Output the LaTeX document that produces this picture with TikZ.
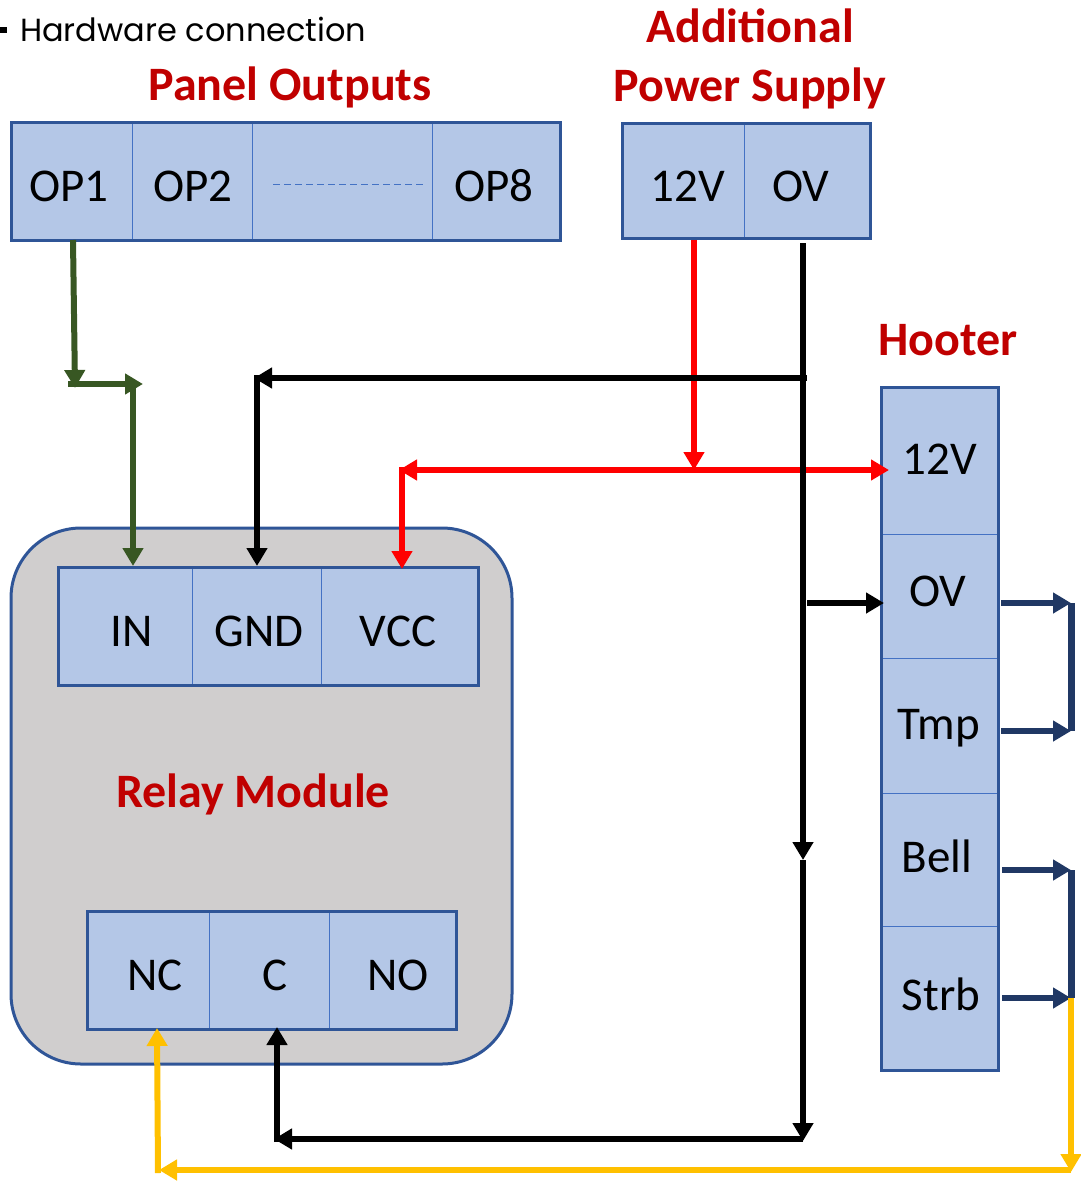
\documentclass[tikz,border=0pt]{standalone}
\usepackage{fontspec}
\setmainfont{Carlito}
\newfontfamily\headfont{Poppins}
\usetikzlibrary{arrows.meta}
\definecolor{cellblue}{HTML}{B4C7E7}
\definecolor{edgeblue}{HTML}{2F5597}
\definecolor{thinblue}{HTML}{4472C4}
\definecolor{modulegrey}{HTML}{D0CECE}
\definecolor{titlered}{HTML}{C00000}
\definecolor{wiregreen}{HTML}{385723}
\definecolor{wirenavy}{HTML}{203864}
\definecolor{wireyellow}{HTML}{FFC000}
\tikzset{
  cellbox/.style={draw=thinblue,line width=1pt,fill=cellblue,inner sep=0pt},
  outerbox/.style={draw=edgeblue,line width=3pt,inner sep=0pt},
  celltext/.style={inner sep=0pt,font=\fontsize{47}{50}\selectfont},
  titletext/.style={inner sep=0pt,text=titlered,font=\fontsize{48}{50}\selectfont\bfseries},
  wire/.style={line width=6pt,-{Triangle[length=18pt,width=20pt]}},
  plainwire/.style={line width=7pt},
}
\begin{document}
\begin{tikzpicture}[x=1pt,y=-1pt]
        \useasboundingbox (0,0) rectangle (1081,1181);
        \fill (0,27) rectangle (7,33);
        \node[anchor=west,inner sep=0pt,font=\fontsize{32}{36}\selectfont\headfont] (heading) at (20,29) {Hardware connection};
        \node[titletext] (paneltitle) at (290,87) {Panel Outputs};
        \node[titletext] (supplytitle) at (750,26) {Additional};
        \node[titletext] (supplytitlea) at (750,88) {Power Supply};
        \node[titletext] (hootertitle) at (948,340) {Hooter};
        % panel outputs
        \node[cellbox,minimum width=121pt,minimum height=118pt] (opone) at (71.5,181) {};
        \node[cellbox,minimum width=120pt,minimum height=118pt] (optwo) at (192,181) {};
        \node[cellbox,minimum width=180pt,minimum height=118pt] (opdots) at (342,181) {};
        \node[cellbox,minimum width=128pt,minimum height=118pt] (opeight) at (496,181) {};
        \node[outerbox,minimum width=549pt,minimum height=118pt] (panel) at (285.5,181) {};
        \node[celltext] (oponetext) at (69,186) {OP1};
        \node[celltext] (optwotext) at (193,186) {OP2};
        \node[celltext] (opeighttext) at (494,186) {OP8};
        \coordinate (dotsleft) at (273,184);
        \coordinate (dotsright) at (425,184);
        \draw[thinblue,dash pattern=on 7pt off 4pt,line width=1pt] (dotsleft)--(dotsright);
        % additional supply
        \node[cellbox,minimum width=122pt,minimum height=115pt] (supplyplus) at (683,180.5) {};
        \node[cellbox,minimum width=126pt,minimum height=115pt] (supplyzero) at (807,180.5) {};
        \node[outerbox,minimum width=248pt,minimum height=115pt] (supply) at (746,180.5) {};
        \node[celltext] (supplyplustext) at (688,186) {12V};
        \node[celltext] (supplyzerotext) at (801,186) {OV};
        % hooter
        \node[cellbox,minimum width=117pt,minimum height=147pt] (hooterplus) at (939.5,460.5) {};
        \node[cellbox,minimum width=117pt,minimum height=124pt] (hooterzero) at (939.5,596) {};
        \node[cellbox,minimum width=117pt,minimum height=135pt] (hootertmp) at (939.5,725.5) {};
        \node[cellbox,minimum width=117pt,minimum height=133pt] (hooterbell) at (939.5,859.5) {};
        \node[cellbox,minimum width=117pt,minimum height=144pt] (hooterstrb) at (939.5,998) {};
        \node[outerbox,minimum width=117pt,minimum height=683pt] (hooter) at (939.5,728.5) {};
        \node[celltext] (hooterplustext) at (940,459) {12V};
        \node[celltext] (hooterzerotext) at (938,591) {OV};
        \node[celltext] (hootertmptext) at (939,728) {Tmp};
        \node[celltext] (hooterbelltext) at (937,856) {Bell};
        \node[celltext] (hooterstrbtext) at (941,994) {Strb};
        % relay module
        \node[draw=edgeblue,line width=3pt,fill=modulegrey,rounded corners=70pt,inner sep=0pt,minimum width=501pt,minimum height=536pt] (relay) at (261.5,796) {};
        \node[titletext] (relaytitle) at (253,794) {Relay Module};
        \node[cellbox,minimum width=134pt,minimum height=118pt] (incell) at (125,626) {};
        \node[cellbox,minimum width=129pt,minimum height=118pt] (gndcell) at (256.5,626) {};
        \node[cellbox,minimum width=157pt,minimum height=118pt] (vcccell) at (399.5,626) {};
        \node[outerbox,minimum width=420pt,minimum height=118pt] (relayin) at (268,626) {};
        \node[celltext] (intext) at (132,631) {IN};
        \node[celltext] (gndtext) at (259,631) {GND};
        \node[celltext] (vcctext) at (398,631) {VCC};
        \node[cellbox,minimum width=122pt,minimum height=118pt] (nccell) at (148,970) {};
        \node[cellbox,minimum width=120pt,minimum height=118pt] (ccell) at (269,970) {};
        \node[cellbox,minimum width=127pt,minimum height=118pt] (nocell) at (392.5,970) {};
        \node[outerbox,minimum width=369pt,minimum height=118pt] (relayout) at (271.5,970) {};
        \node[celltext] (nctext) at (155,975) {NC};
        \node[celltext] (ctext) at (275,975) {C};
        \node[celltext] (notext) at (398,975) {NO};
        % wire points
        \coordinate (greenstart) at (73,240);
        \coordinate (greendrop) at (75,388);
        \coordinate (greenleft) at (68,384);
        \coordinate (greenright) at (143,384);
        \coordinate (greenturn) at (133,384);
        \coordinate (intop) at (133,566);
        \coordinate (blackstart) at (803,243);
        \coordinate (blackmid) at (803,860);
        \coordinate (blackend) at (803,1141);
        \coordinate (blackupper) at (807,378);
        \coordinate (blackupperend) at (254,378);
        \coordinate (blackturn) at (257,375);
        \coordinate (gndtop) at (257,566);
        \coordinate (blackhooter) at (807,603);
        \coordinate (hooterzeroleft) at (884,603);
        \coordinate (blacklowerstart) at (803,1139);
        \coordinate (blacklowerend) at (274,1139);
        \coordinate (blacklowerturn) at (277,1142);
        \coordinate (cbottom) at (277,1027);
        \coordinate (redstart) at (694,240);
        \coordinate (redjoin) at (694,470);
        \coordinate (redleft) at (399,470);
        \coordinate (redright) at (889,470);
        \coordinate (redturn) at (402,467);
        \coordinate (vcctop) at (402,569);
        \coordinate (navyzero) at (1001,603);
        \coordinate (navyzeroend) at (1071,603);
        \coordinate (navytmp) at (1001,731);
        \coordinate (navytmpend) at (1071,731);
        \coordinate (navybell) at (1002,870);
        \coordinate (navybellend) at (1071,870);
        \coordinate (navystrb) at (1002,998);
        \coordinate (navystrbend) at (1071,998);
        \coordinate (yellowtop) at (1071,998);
        \coordinate (yellowcorner) at (1071,1172);
        \coordinate (yellowstart) at (1071,1170);
        \coordinate (yellowend) at (159,1170);
        \coordinate (yellowturn) at (158,1173);
        \coordinate (ncbottom) at (157,1028);
        % wires
        \draw[wire,wiregreen] (greenstart)--(greendrop);
        \draw[wire,wiregreen] (greenleft)--(greenright);
        \draw[wire,wiregreen] (greenturn)--(intop);
        \draw[wire,red] (redstart)--(redjoin);
        \draw[wire,red,{Triangle[length=18pt,width=20pt]}-{Triangle[length=18pt,width=20pt]}] (redleft)--(redright);
        \draw[wire,red] (redturn)--(vcctop);
        \draw[wire] (blackupper)--(blackupperend);
        \draw[wire] (blackturn)--(gndtop);
        \draw[wire] (blackstart)--(blackmid);
        \draw[wire] (blackmid)--(blackend);
        \draw[wire] (blackhooter)--(hooterzeroleft);
        \draw[wire] (blacklowerstart)--(blacklowerend);
        \draw[wire] (blacklowerturn)--(cbottom);
        \draw[wire,wirenavy] (navyzero)--(navyzeroend);
        \draw[wire,wirenavy] (navytmp)--(navytmpend);
        \draw[plainwire,wirenavy] (navyzeroend)--(navytmpend);
        \draw[wire,wirenavy] (navybell)--(navybellend);
        \draw[wire,wirenavy] (navystrb)--(navystrbend);
        \draw[plainwire,wirenavy] (navybellend)--(navystrbend);
        \draw[wire,wireyellow] (yellowtop)--(yellowcorner);
        \draw[wire,wireyellow] (yellowstart)--(yellowend);
        \draw[wire,wireyellow] (yellowturn)--(ncbottom);
    \end{tikzpicture}
\end{document}
